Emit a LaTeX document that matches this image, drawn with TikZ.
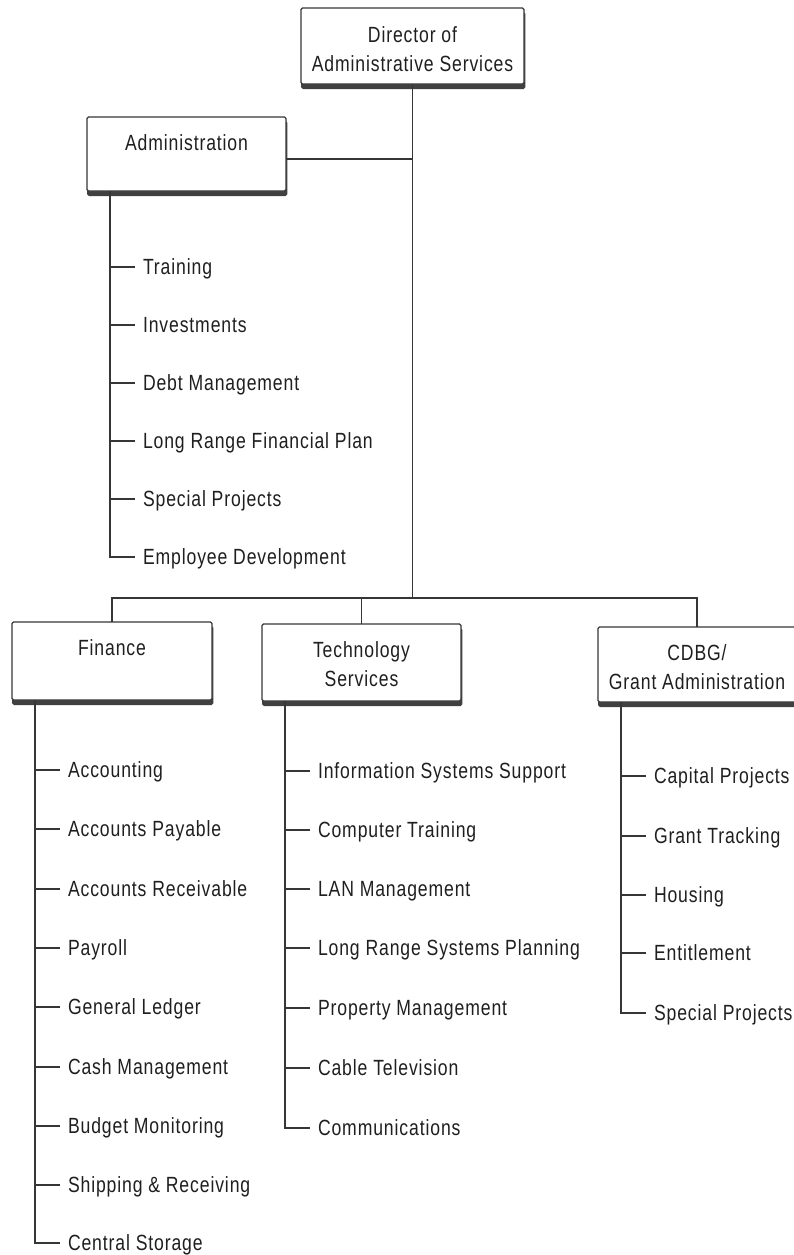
\documentclass[tikz,border=0pt]{standalone}
\usepackage{fontspec}
\setmainfont{Liberation Sans}[FakeStretch=0.8,LetterSpace=4]
\definecolor{ink}{HTML}{1F1F1F}
\definecolor{rule}{HTML}{363636}
\definecolor{shade}{HTML}{404040}
% two-line box captions, aligned on the baseline of their first line
\newcommand{\boxcaption}[1]{\parbox[t]{210pt}{\centering\fontsize{22}{29}\selectfont #1}}
\begin{document}
\begin{tikzpicture}[x=1pt,y=-1pt,
  every node/.style={text=ink, font=\fontsize{22}{29}\selectfont},
  unitbox/.style={rectangle, draw=rule, fill=white, line width=1.2pt,
    rounded corners=1.5pt, inner sep=0pt, outer sep=0pt,
    preaction={fill=shade, draw=shade, transform canvas={shift={(0.8pt,-4.5pt)}}}},
  caption/.style={anchor=base, inner sep=0pt},
  item/.style={anchor=west, inner xsep=8pt, inner ysep=0pt, outer sep=0pt,
    text height=15.5pt, text depth=0pt},
  link/.style={draw=rule, line width=1.3pt},
]
\useasboundingbox[fill=white] (0,0) rectangle (794,1255);

% ---- unit boxes ----
\node[unitbox, minimum width=223pt, minimum height=76pt] (dirbox) at (412.5,46) {};
\node[unitbox, minimum width=199pt, minimum height=74pt] (adminbox) at (186.5,154) {};
\node[unitbox, minimum width=200pt, minimum height=78pt] (finbox) at (112,661) {};
\node[unitbox, minimum width=199pt, minimum height=77pt] (techbox) at (361.5,662.5) {};
\node[unitbox, minimum width=198pt, minimum height=75pt] (cdbgbox) at (697,664.5) {};

% ---- box captions ----
\node[caption] (dirtext) at (412.5,42.5) {\boxcaption{Director of\\Administrative Services}};
\node[caption] (admintext) at (186.5,150.5) {\boxcaption{Administration}};
\node[caption] (fintext) at (112,655) {\boxcaption{Finance}};
\node[caption] (techtext) at (361.5,657.5) {\boxcaption{Technology\\Services}};
\node[caption] (cdbgtext) at (697,660.5) {\boxcaption{CDBG/\\Grant Administration}};

% ---- reporting lines ----
\coordinate (bus) at (dirbox.south |- 0,598);
\coordinate (adminjoin) at (dirbox.south |- 0,159);
\draw[link] (dirbox.south) -- (bus);
\draw[link] (adminbox.east |- adminjoin) -- (adminjoin);
\draw[link] (finbox.north) |- (bus) -| (cdbgbox.north);
\draw[link] (techbox.north) -- (techbox.north |- bus);

% ---- spines under each box ----
\coordinate (adminspine) at ([xshift=23pt]adminbox.south west);
\coordinate (finspine) at ([xshift=23pt]finbox.south west);
\coordinate (techspine) at ([xshift=23pt]techbox.south west);
\coordinate (cdbgspine) at ([xshift=23pt]cdbgbox.south west);

% ---- Administration functions ----
\node[item] (a1) at (135,267) {Training};
\node[item] (a2) at (135,325) {Investments};
\node[item] (a3) at (135,383) {Debt Management};
\node[item] (a4) at (135,441) {Long Range Financial Plan};
\node[item] (a5) at (135,499) {Special Projects};
\node[item] (a6) at (135,557) {Employee Development};
\draw[link] (adminspine) |- (a6.west);
\foreach \n in {a1,a2,a3,a4,a5} \draw[link] (\n.west) -- (\n.west -| adminspine);

% ---- Finance functions ----
\node[item] (f1) at (60,770) {Accounting};
\node[item] (f2) at (60,829) {Accounts Payable};
\node[item] (f3) at (60,889) {Accounts Receivable};
\node[item] (f4) at (60,948) {Payroll};
\node[item] (f5) at (60,1007) {General Ledger};
\node[item] (f6) at (60,1067) {Cash Management};
\node[item] (f7) at (60,1126) {Budget Monitoring};
\node[item] (f8) at (60,1185) {Shipping \& Receiving};
\node[item] (f9) at (60,1243) {Central Storage};
\draw[link] (finspine) |- (f9.west);
\foreach \n in {f1,f2,f3,f4,f5,f6,f7,f8} \draw[link] (\n.west) -- (\n.west -| finspine);

% ---- Technology Services functions ----
\node[item] (t1) at (310,771) {Information Systems Support};
\node[item] (t2) at (310,830) {Computer Training};
\node[item] (t3) at (310,889) {LAN Management};
\node[item] (t4) at (310,948) {Long Range Systems Planning};
\node[item] (t5) at (310,1008) {Property Management};
\node[item] (t6) at (310,1068) {Cable Television};
\node[item] (t7) at (310,1128) {Communications};
\draw[link] (techspine) |- (t7.west);
\foreach \n in {t1,t2,t3,t4,t5,t6} \draw[link] (\n.west) -- (\n.west -| techspine);

% ---- CDBG / Grant Administration functions ----
\node[item] (c1) at (646,776) {Capital Projects};
\node[item] (c2) at (646,836) {Grant Tracking};
\node[item] (c3) at (646,895) {Housing};
\node[item] (c4) at (646,953) {Entitlement};
\node[item] (c5) at (646,1013) {Special Projects};
\draw[link] (cdbgspine) |- (c5.west);
\foreach \n in {c1,c2,c3,c4} \draw[link] (\n.west) -- (\n.west -| cdbgspine);
\end{tikzpicture}
\end{document}
